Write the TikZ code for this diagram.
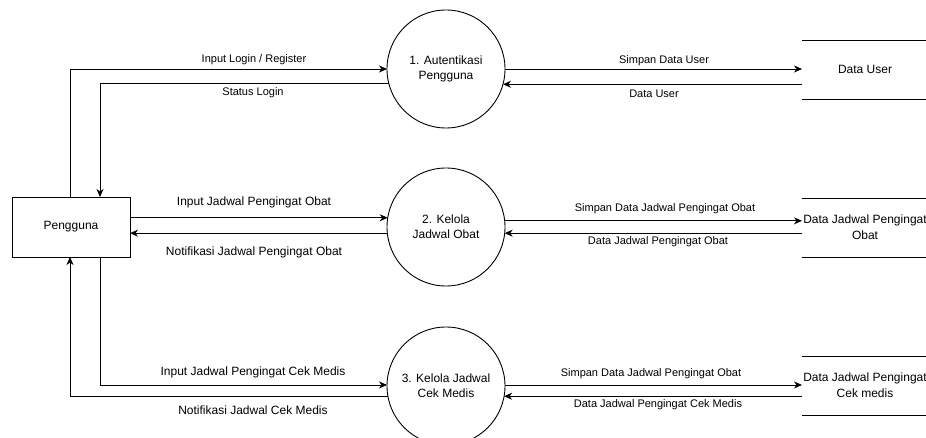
\documentclass[tikz,border=0pt]{standalone}
\usepackage{fontspec}
\setmainfont{Liberation Sans}
\usetikzlibrary{arrows.meta}
\begin{document}
\begin{tikzpicture}[x=1pt,y=-1pt,
  every node/.style={inner sep=0pt,outer sep=0pt,text=black},
  lbl/.style={font=\fontsize{11}{13}\selectfont},
  lblb/.style={font=\fontsize{12}{14}\selectfont},
  proc/.style={draw,circle,line width=0.9pt,minimum size=118pt,align=center,font=\fontsize{12}{15}\selectfont},
  ent/.style={draw,rectangle,line width=0.9pt,minimum width=118pt,minimum height=60pt,font=\fontsize{12}{15}\selectfont},
  store/.style={rectangle,minimum width=126pt,minimum height=59pt,align=center,font=\fontsize{12}{16}\selectfont},
  storeline/.style={draw,line width=0.9pt},
  flow/.style={draw,line width=0.9pt,-{Stealth[length=8pt,width=7pt,inset=2.5pt]}},
]
\useasboundingbox (0,0) rectangle (926,438);

% entity
\node[ent] (user) at (71,227) {Pengguna};

% processes
\node[proc] (p1) at (446,69) {1. Autentikasi\\Pengguna};
\node[proc] (p2) at (446,227) {2. Kelola\\Jadwal Obat};
\node[proc] (p3) at (446,386) {3. Kelola Jadwal\\Cek Medis};

% data stores
\node[store] (ds1) at (865,69.5) {Data User};
\node[store] (ds2) at (865,227.5) {Data Jadwal Pengingat\\Obat};
\node[store] (ds3) at (865,385.5) {Data Jadwal Pengingat\\Cek medis};
\foreach \s in {ds1,ds2,ds3}{
  \draw[storeline] (\s.north west) -- (\s.north east);
  \draw[storeline] (\s.south west) -- (\s.south east);
}

% helper coordinates
\coordinate (uA) at ([xshift=-1pt]user.north);
\coordinate (uB) at ([xshift=29pt]user.north);
\coordinate (uC) at ([xshift=29pt]user.south);
\coordinate (uD) at ([xshift=-1pt]user.south);

% user <-> p1
\draw[flow] (uA) |- (p1.west);
\draw[flow] (p1.194.7) -| (uB);
% user <-> p2
\draw[flow] (user.east |- p2.171.2) -- (p2.171.2);
\draw[flow] (p2.186.8) -- (user.east |- p2.186.8);
% user <-> p3
\draw[flow] (uC) |- (p3.179);
\draw[flow] (p3.190.7) -| (uD);

% p <-> stores
\draw[flow] (p1.east) -- (ds1.west |- p1.east);
\draw[flow] (ds1.west |- p1.345.3) -- (p1.345.3);
\draw[flow] (p2.6.8) -- (ds2.west |- p2.6.8);
\draw[flow] (ds2.west |- p2.354.2) -- (p2.354.2);
\draw[flow] (p3.1.9) -- (ds3.west |- p3.1.9);
\draw[flow] (ds3.west |- p3.350.2) -- (p3.350.2);

% labels
\node[lbl] (l1) at (254,60) {Input Login / Register};
\node[lbl] (l2) at (253,93) {Status Login};
\node[lblb] (l3) at (254,202) {Input Jadwal Pengingat Obat};
\node[lblb] (l4) at (254,252) {Notifikasi Jadwal Pengingat Obat};
\node[lblb] (l5) at (253,372) {Input Jadwal Pengingat Cek Medis};
\node[lblb] (l6) at (253,410) {Notifikasi Jadwal Cek Medis};

\node[lbl] (r1) at (664,61) {Simpan Data User};
\node[lbl] (r2) at (654,94) {Data User};
\node[lbl] (r3) at (665,209) {Simpan Data Jadwal Pengingat Obat};
\node[lbl] (r4) at (658,242) {Data Jadwal Pengingat Obat};
\node[lbl] (r5) at (651,374) {Simpan Data Jadwal Pengingat Obat};
\node[lbl] (r6) at (658,405) {Data Jadwal Pengingat Cek Medis};
\end{tikzpicture}
\end{document}
